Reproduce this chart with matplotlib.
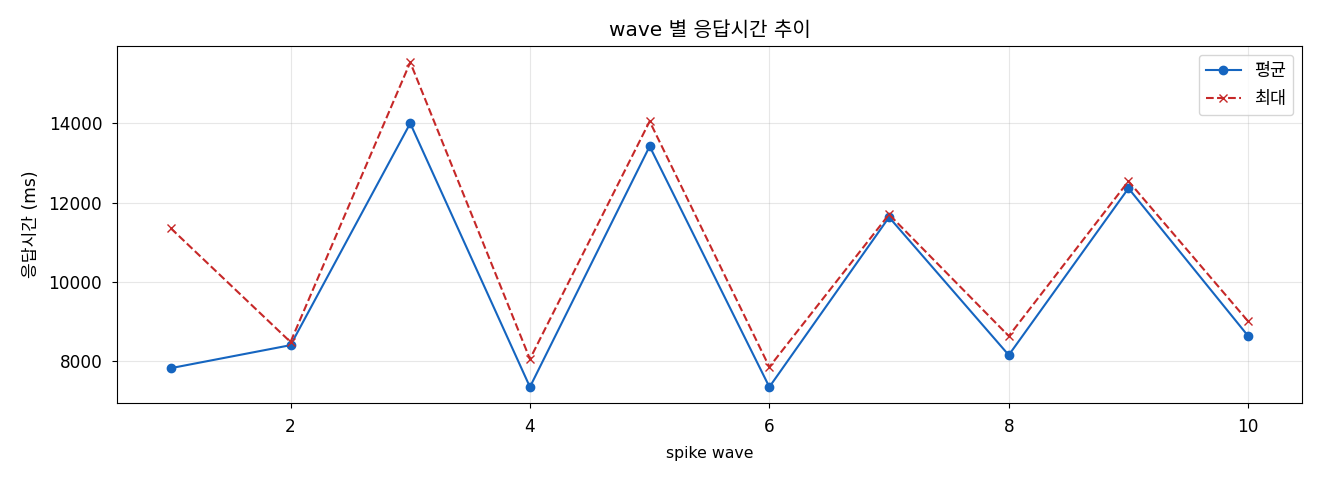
import matplotlib
matplotlib.use("Agg")
import matplotlib.pyplot as plt

plt.rcParams['font.family'] = ['DejaVu Sans', 'Noto Sans CJK KR']
plt.rcParams['axes.unicode_minus'] = False
plt.rcParams['font.size'] = 11.5

waves = [1, 2, 3, 4, 5, 6, 7, 8, 9, 10]
avg_ms = [7820, 8400, 14000, 7345, 13420, 7345, 11630, 8150, 12360, 8630]
max_ms = [11350, 8480, 15540, 8050, 14050, 7850, 11700, 8630, 12540, 9000]

fig, ax = plt.subplots(figsize=(13.2, 4.8), dpi=100)
ax.plot(waves, avg_ms, marker='o', color='#1565C0', label='평균')
ax.plot(waves, max_ms, marker='x', linestyle='--', color='#C62828', label='최대')
ax.set_title('wave 별 응답시간 추이', fontsize=14.5, pad=7)
ax.set_xlabel('spike wave', fontsize=11.3, labelpad=7)
ax.set_ylabel('응답시간 (ms)', fontsize=12.3, labelpad=6.5)
ax.tick_params(labelsize=12.2, pad=7)
ax.grid(True, alpha=0.3)
ax.legend(loc='upper right', fontsize=12.5, labelspacing=0.6)

plt.subplots_adjust(left=0.0886, right=0.9864, top=0.904, bottom=0.16)
fig.savefig('out.png', dpi=100)
